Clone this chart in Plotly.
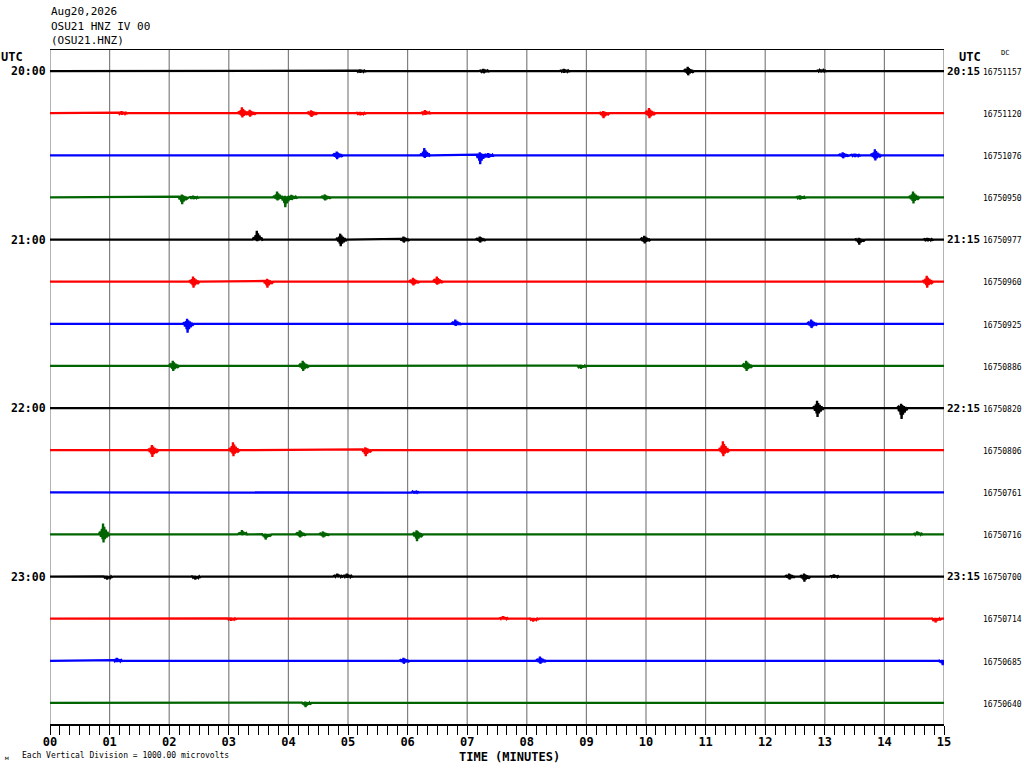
import plotly.graph_objects as go

# ---------------- data ----------------
header_lines = ["Aug20,2026", "OSU21 HNZ IV 00", "(OSU21.HNZ)"]
minutes = list(range(16))
minute_labels = [f"{m:02d}" for m in minutes]
row_colors = ["black", "red", "blue", "#006400"]
hour_rows = [0, 4, 8, 12]
left_times = ["20:00", "21:00", "22:00", "23:00"]
right_times = ["20:15", "21:15", "22:15", "23:15"]
dc_values = ["16751157", "16751120", "16751076", "16750950",
             "16750977", "16750960", "16750925", "16750886",
             "16750820", "16750806", "16750761", "16750716",
             "16750700", "16750714", "16750685", "16750640"]
microvolts_per_division = 1000.0

# events per row: (minute, peak up in microvolts, peak down in microvolts)
ev_2000 = [(5.2, 40, 40), (7.27, 50, 50), (8.62, 50, 40), (10.7, 100, 100), (12.93, 40, 30)]
ev_2015 = [(1.2, 50, 40), (3.22, 140, 100), (3.35, 80, 80), (4.38, 70, 90), (5.2, 30, 50),
           (6.29, 70, 40), (9.28, 50, 120), (10.05, 120, 120)]
ev_2030 = [(4.81, 90, 90), (6.28, 170, 60), (7.21, 70, 210), (7.35, 50, 60),
           (13.3, 70, 70), (13.5, 40, 40), (13.84, 140, 120)]
ev_2045 = [(2.21, 70, 160), (2.4, 40, 40), (3.81, 140, 70), (3.94, 40, 230), (4.05, 60, 60),
           (4.61, 70, 70), (12.58, 50, 50), (14.48, 140, 140)]
ev_2100 = [(3.47, 210, 40), (4.87, 140, 160), (5.93, 70, 70), (7.21, 70, 70),
           (9.97, 90, 90), (13.57, 40, 120), (14.72, 40, 40)]
ev_2115 = [(2.40, 120, 140), (3.64, 70, 140), (6.09, 90, 90), (6.49, 120, 70), (14.71, 140, 140)]
ev_2130 = [(2.30, 120, 210), (6.80, 100, 50), (12.77, 100, 100)]
ev_2145 = [(2.06, 120, 120), (4.24, 120, 120), (8.9, 30, 70), (11.68, 120, 120)]
ev_2200 = [(12.87, 170, 210), (14.28, 100, 260)]
ev_2215 = [(1.71, 120, 160), (3.07, 190, 140), (5.29, 70, 140), (11.29, 210, 140)]
ev_2230 = [(6.1, 30, 30)]
ev_2245 = [(0.89, 260, 190), (3.22, 100, 20), (3.61, 20, 120), (4.19, 100, 70),
           (4.58, 70, 70), (6.15, 100, 160), (14.55, 70, 20)]
ev_2300 = [(0.95, 20, 70), (2.43, 20, 70), (4.82, 70, 20), (4.98, 70, 30),
           (12.4, 70, 70), (12.65, 70, 120), (13.15, 50, 30)]
ev_2315 = [(3.03, 30, 50), (7.6, 60, 20), (8.1, 20, 70), (14.85, 20, 90)]
ev_2330 = [(1.12, 70, 30), (5.93, 70, 70), (8.22, 100, 70), (14.97, 20, 100)]
ev_2345 = [(4.28, 30, 100)]

row_events = [ev_2000, ev_2015, ev_2030, ev_2045, ev_2100, ev_2115, ev_2130, ev_2145,
              ev_2200, ev_2215, ev_2230, ev_2245, ev_2300, ev_2315, ev_2330, ev_2345]

# ---------------- figure ----------------
W, H = 1024, 768
L, R, T, B = 50, 80, 50, 44
pw, ph = W - L - R, H - T - B


def px(xp, yp):
    return (xp - L) / pw, (H - B - yp) / ph


# wiggle glyph used to draw one event (relative time offsets and shares of up/down peaks)
glyph_dt = [-0.07, -0.05, -0.035, -0.02, -0.008, 0.0, 0.008, 0.02, 0.032, 0.045, 0.06, 0.075, 0.09, 0.11]
glyph_up = [0, 0.25, 0, 0.5, 0, 1.0, 0, 0.7, 0, 0.45, 0, 0.25, 0, 0]
glyph_dn = [0, 0, 0.3, 0, 0.6, 0, 1.0, 0, 0.6, 0, 0.4, 0, 0.2, 0]

fig = go.Figure()
for r, evs in enumerate(row_events):
    xs, ys = [0.0], [float(r)]
    for (t, up, dn) in sorted(evs):
        for dt, fu, fd in zip(glyph_dt, glyph_up, glyph_dn):
            tt = min(max(t + dt, 0.0), 15.0)
            xs.append(tt)
            ys.append(r - (fu * up - fd * dn) / microvolts_per_division)
    xs.append(15.0)
    ys.append(float(r))
    fig.add_trace(go.Scatter(x=xs, y=ys, mode="lines",
                             line=dict(color=row_colors[r % 4], width=2.3),
                             hoverinfo="skip", showlegend=False))

# vertical minute lines
for m in minutes:
    fig.add_shape(type="line", xref="x", yref="paper", x0=m, x1=m, y0=0, y1=1,
                  line=dict(color="#808080", width=1.2), layer="below")

mono = "DejaVu Sans Mono"
ann = []
for i, line in enumerate(header_lines):
    x, y = px(49, 12 + i * 14.5)
    ann.append(dict(text=line, x=x, y=y, xref="paper", yref="paper", xanchor="left",
                    yanchor="middle", showarrow=False, font=dict(family=mono, size=11, color="black")))

x, y = px(-1, 57)
ann.append(dict(text="<b>UTC</b>", x=x, y=y, xref="paper", yref="paper", xanchor="left",
                yanchor="middle", showarrow=False, font=dict(family=mono, size=12, color="black")))
x, y = px(957, 57)
ann.append(dict(text="<b>UTC</b>", x=x, y=y, xref="paper", yref="paper", xanchor="left",
                yanchor="middle", showarrow=False, font=dict(family=mono, size=12, color="black")))
x, y = px(999, 53)
ann.append(dict(text="DC", x=x, y=y, xref="paper", yref="paper", xanchor="left",
                yanchor="middle", showarrow=False, font=dict(family=mono, size=7, color="black")))

for row, lt, rt in zip(hour_rows, left_times, right_times):
    ann.append(dict(text=f"<b>{lt}</b>", x=0, y=row, xref="paper", yref="y", xanchor="right",
                    yanchor="middle", xshift=-2, showarrow=False,
                    font=dict(family=mono, size=11.5, color="black")))
    ann.append(dict(text=f"<b>{rt}</b>", x=1, y=row, xref="paper", yref="y", xanchor="left",
                    yanchor="middle", xshift=1, showarrow=False,
                    font=dict(family=mono, size=11, color="black")))

xr, _ = px(1024, 0)
for r, dc in enumerate(dc_values):
    ann.append(dict(text=dc, x=xr, y=r + 0.03, xref="paper", yref="y", xanchor="right",
                    yanchor="middle", showarrow=False, font=dict(family=mono, size=8, color="black")))

x, y = px(509, 757)
ann.append(dict(text="<b>TIME (MINUTES)</b>", x=x, y=y, xref="paper", yref="paper",
                xanchor="center", yanchor="middle", showarrow=False,
                font=dict(family=mono, size=12, color="black")))
x, y = px(20, 755)
ann.append(dict(text="Each Vertical Division = 1000.00 microvolts", x=x, y=y, xref="paper",
                yref="paper", xanchor="left", yanchor="middle", showarrow=False,
                font=dict(family=mono, size=8, color="black")))
x, y = px(3, 757)
ann.append(dict(text="м", x=x, y=y, xref="paper", yref="paper", xanchor="left",
                yanchor="middle", showarrow=False, font=dict(family=mono, size=6, color="black")))

fig.update_layout(
    width=W, height=H, margin=dict(l=L, r=R, t=T, b=B, pad=0),
    paper_bgcolor="white", plot_bgcolor="white",
    annotations=ann,
    xaxis=dict(range=[0, 15], tickmode="array", tickvals=minutes,
               ticktext=[f"<b>{s}</b>" for s in minute_labels],
               tickfont=dict(family=mono, size=12, color="black"),
               ticks="outside", ticklen=9, tickwidth=1, tickcolor="black",
               ticklabelstandoff=-3,
               minor=dict(tickmode="linear", tick0=0, dtick=1 / 6, ticks="outside",
                          ticklen=9, tickwidth=1, tickcolor="black", showgrid=False),
               showgrid=False, zeroline=False, showline=True, linecolor="black",
               linewidth=1.5, mirror=True, fixedrange=True),
    yaxis=dict(range=[15.5, -0.5], showgrid=False, zeroline=False, showticklabels=False,
               ticks="", showline=False, fixedrange=True),
)

fig.write_html("out.html", config={"displayModeBar": False, "staticPlot": True},
               post_script="document.body.style.margin='0';")
